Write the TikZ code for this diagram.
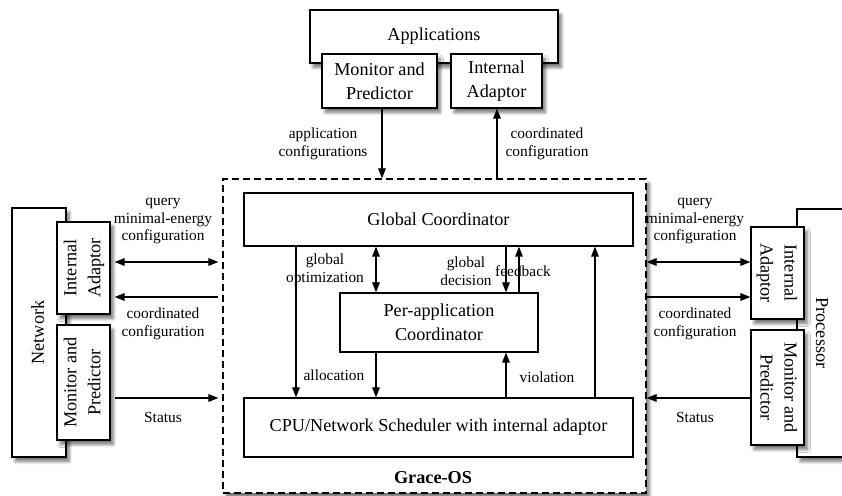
\documentclass[tikz,border=0pt]{standalone}
\usepackage{fontspec}
\setmainfont{Liberation Serif}
\usepackage{graphicx}
\usetikzlibrary{arrows.meta,shadows.blur}

\newcommand{\sidetext}[2]{\rotatebox{#1}{\begin{tabular}{@{}c@{}}#2\end{tabular}}}

\begin{document}
\begin{tikzpicture}[x=0.5pt, y=-0.5pt,
    >={Triangle[length=5pt,width=3.8pt]},
    box/.style={draw, fill=white, line width=0.6pt, inner sep=0pt, align=center,
      font=\fontsize{9.1}{12}\selectfont},
    softshadow/.style={blur shadow={shadow xshift=1.6pt, shadow yshift=-2.2pt,
      shadow blur radius=1.6pt, shadow blur steps=6, shadow opacity=55}},
    shadowbox/.style={box, softshadow},
    lbl/.style={align=center, inner sep=0pt, font=\fontsize{7.7}{8.8}\selectfont},
    flow/.style={line width=0.6pt},
    gap/.style={flow, shorten <=2pt, shorten >=2pt}]
    \useasboundingbox (0,0) rectangle (842,496);
    \clip (0,0) rectangle (842,496);

    % applications on top
    \node[shadowbox, minimum width=124pt, minimum height=26.5pt] (apps) at (434,36.5) {Applications};
    \node[shadowbox, minimum width=57.5pt, minimum height=27pt] (appmon) at (379.5,81) {Monitor and\\Predictor};
    \node[shadowbox, minimum width=45.5pt, minimum height=27pt] (appadp) at (496.5,81) {Internal\\Adaptor};

    % Grace-OS
    \node[draw, fill=white, line width=0.6pt, dash pattern=on 3.5pt off 2pt,
      minimum width=211.5pt, minimum height=157pt, softshadow] (grace) at (434.5,336) {};
    \node[box, minimum width=194.5pt, minimum height=26.5pt] (glob) at (438.5,219.5) {Global Coordinator};
    \node[box, minimum width=99pt, minimum height=29.5pt] (perapp) at (439,322.5) {Per-application\\Coordinator};
    \node[box, minimum width=194.5pt, minimum height=29.5pt] (sched) at (438.5,427.5) {CPU/Network Scheduler with internal adaptor};
    \node[font=\bfseries\fontsize{9.1}{12}\selectfont] (gracelbl) at (433,478) {Grace-OS};

    % network side
    \node[shadowbox, minimum width=27pt, minimum height=124.5pt] (net) at (39,332.5) {\sidetext{90}{Network}};
    \node[shadowbox, minimum width=26.5pt, minimum height=46pt] (netadp) at (83.5,268) {\sidetext{90}{Internal\\Adaptor}};
    \node[shadowbox, minimum width=26.5pt, minimum height=57.5pt] (netmon) at (83.5,382.5) {\sidetext{90}{Monitor and\\Predictor}};

    % processor side
    \node[shadowbox, minimum width=24pt, minimum height=124pt] (proc) at (821,333) {\sidetext{-90}{Processor}};
    \node[shadowbox, minimum width=26.5pt, minimum height=46pt] (procadp) at (777.5,273) {\sidetext{-90}{Internal\\Adaptor}};
    \node[shadowbox, minimum width=26.5pt, minimum height=57.5pt] (procmon) at (777.5,387.5) {\sidetext{-90}{Monitor and\\Predictor}};

    \coordinate (xappdown) at (382,0);
    \coordinate (xappup) at (497,0);
    \coordinate (xopt) at (296,0);
    \coordinate (xpa) at (376,0);
    \coordinate (xdec) at (506,0);
    \coordinate (xfb) at (519,0);
    \coordinate (xup) at (595,0);
    \coordinate (yq) at (0,262);
    \coordinate (yc) at (0,297);
    \coordinate (ys) at (0,398);

    \draw[flow, ->] (appmon.south -| xappdown) -- (grace.north -| xappdown);
    \draw[flow, ->] (grace.north -| xappup) -- (appadp.south -| xappup);
    \node[lbl] (lappcfg) at (323,144) {application\\configurations};
    \node[lbl] (lappcoord) at (547,144) {coordinated\\configuration};

    \draw[flow, ->] (glob.south -| xopt) -- (sched.north -| xopt);
    \draw[flow, <->] (glob.south -| xpa) -- (perapp.north -| xpa);
    \draw[flow, ->] (perapp.south -| xpa) -- (sched.north -| xpa);
    \draw[flow, ->] (glob.south -| xdec) -- (perapp.north -| xdec);
    \draw[flow, ->] (perapp.north -| xfb) -- (glob.south -| xfb);
    \draw[flow, ->] (sched.north -| xdec) -- (perapp.south -| xdec);
    \draw[flow, ->] (sched.north -| xup) -- (glob.south -| xup);
    \node[lbl] (lopt) at (325,270) {global\\optimization};
    \node[lbl] (lalloc) at (334,375) {allocation};
    \node[lbl] (ldec) at (466,271) {global\\decision};
    \node[lbl] (lfb) at (523,271) {feedback};
    \node[lbl] (lviol) at (547,377) {violation};

    \draw[gap, <->] (netadp.east |- yq) -- (grace.west |- yq);
    \draw[gap, ->] (grace.west |- yc) -- (netadp.east |- yc);
    \draw[gap, ->] (netmon.east |- ys) -- (grace.west |- ys);
    \node[lbl] (lnetq) at (163,221) {query\\minimal-energy\\configuration};
    \node[lbl] (lnetc) at (163,324) {coordinated\\configuration};
    \node[lbl] (lnets) at (163,417) {Status};

    \draw[flow, <->] (grace.east |- yq) -- (procadp.west |- yq);
    \draw[flow, ->] (grace.east |- yc) -- (procadp.west |- yc);
    \draw[flow, ->] (procmon.west |- ys) -- (grace.east |- ys);
    \node[lbl] (lprocq) at (695,221) {query\\minimal-energy\\configuration};
    \node[lbl] (lprocc) at (695,324) {coordinated\\configuration};
    \node[lbl] (lprocs) at (695,417) {Status};
\end{tikzpicture}
\end{document}
